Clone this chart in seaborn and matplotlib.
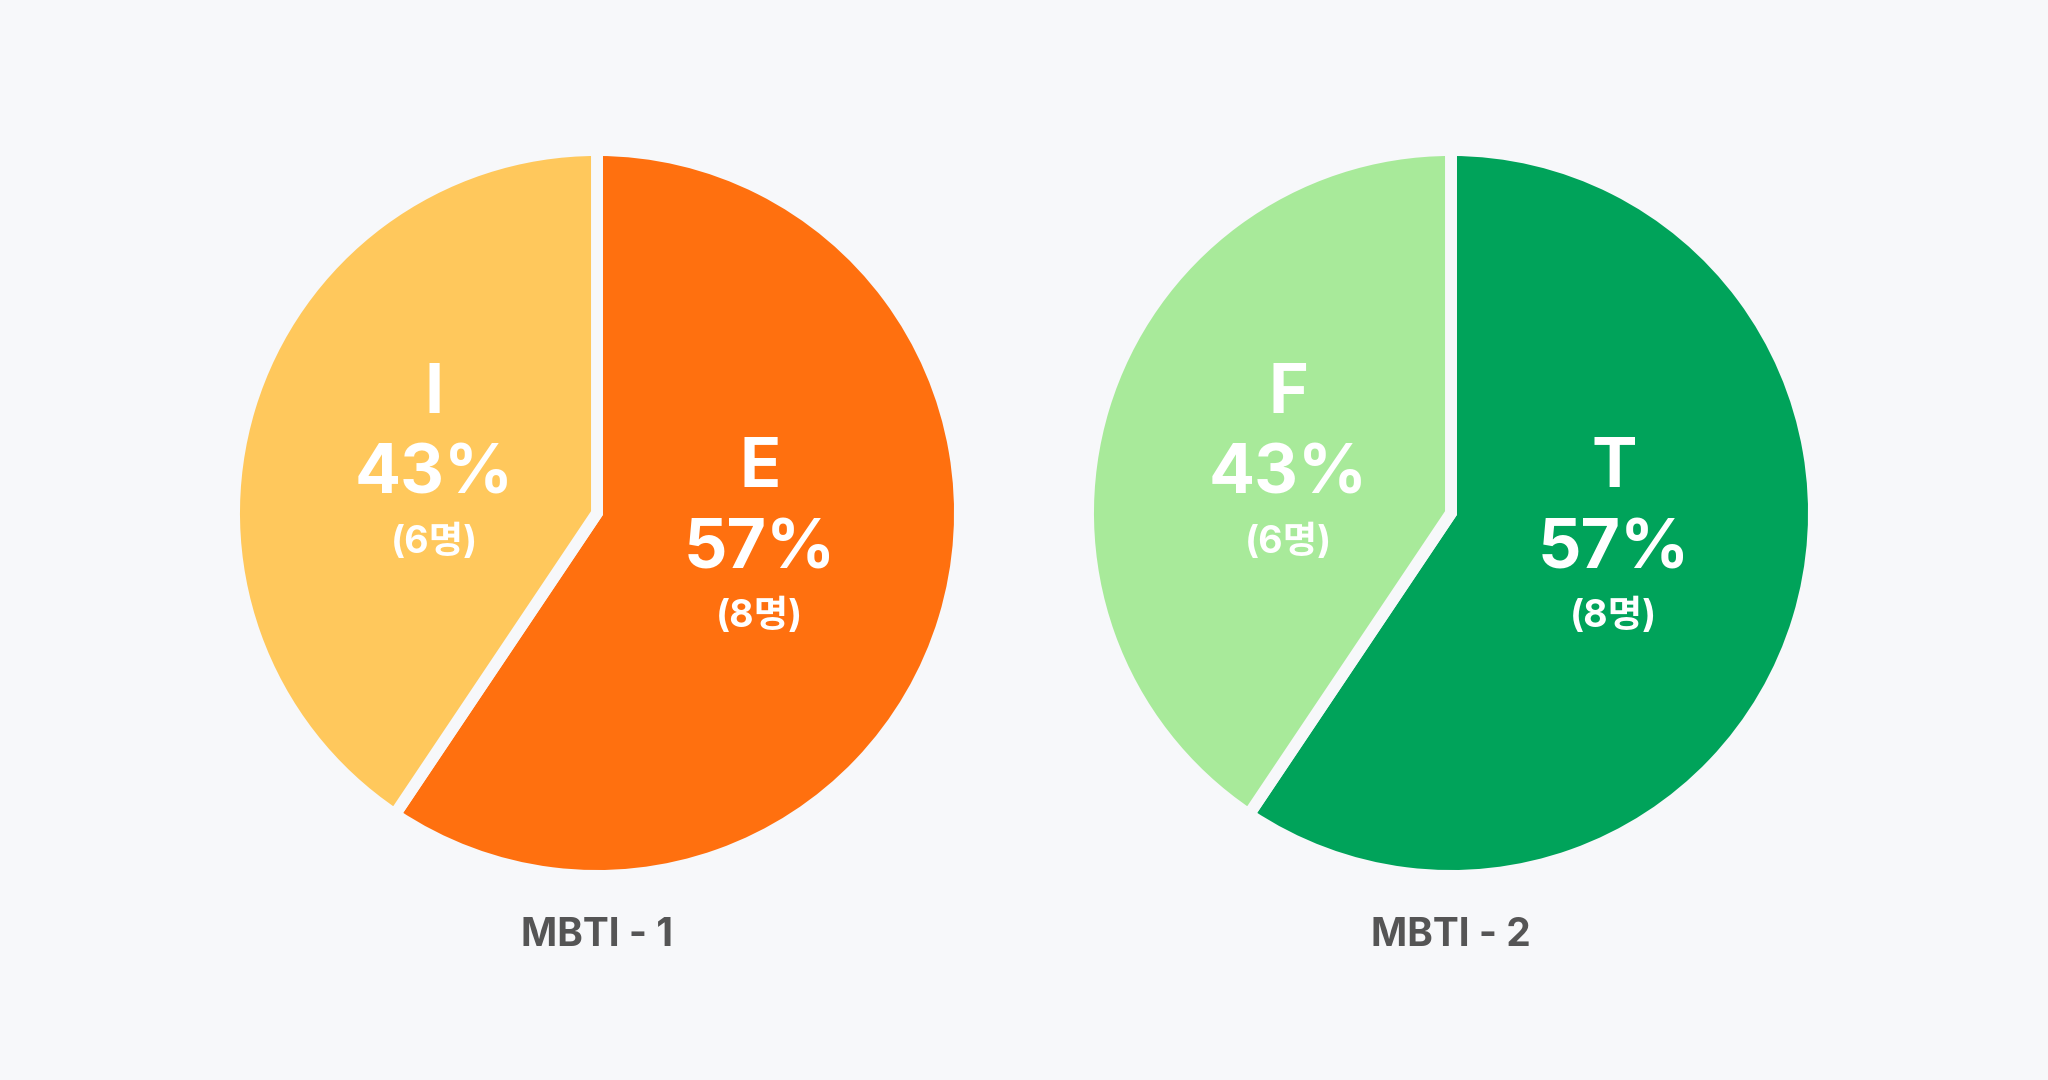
import matplotlib
matplotlib.use("Agg")
import matplotlib.pyplot as plt
import numpy as np
import seaborn as sns

# MBTI split, two charts
titles = ["MBTI - 1", "MBTI - 2"]
types_1 = ["E", "I"]
counts_1 = [8, 6]
colors_1 = ["#FF700F", "#FFC85C"]
types_2 = ["T", "F"]
counts_2 = [8, 6]
colors_2 = ["#00A35A", "#A8EA9A"]
# slice sizes as drawn in the picture (a bit wider than 8/14)
shares_1 = [59.4, 40.6]
shares_2 = [59.4, 40.6]

bg = "#F7F8FA"

sns.set_theme(style="white")
plt.rcParams["font.family"] = ["Inter", "Noto Sans CJK KR", "DejaVu Sans"]

W, H = 2048, 1080
fig = plt.figure(figsize=(W / 100, H / 100), dpi=100, facecolor=bg)

box = 800  # axes size in px
R = 363    # pie radius in px
lim = box / (2 * R)
centers = [(597, 513), (1451, 513)]

for (cx, cy), title, names, counts, shares, cols in zip(
    centers, titles, [types_1, types_2], [counts_1, counts_2],
    [shares_1, shares_2], [colors_1, colors_2]
):
    ax = fig.add_axes([(cx - box / 2) / W, (H - cy - box / 2) / H, box / W, box / H])
    ax.set_facecolor(bg)
    ax.pie(
        shares,
        colors=cols,
        startangle=90,
        counterclock=False,
        radius=1,
        wedgeprops=dict(edgecolor=bg, linewidth=8.6),
    )
    total = sum(counts)
    cum = 0
    for name, n in zip(names, counts):
        mid = 90 - 360 * (cum + n / 2) / total
        cum += n
        ang = np.deg2rad(mid)
        x, y = 0.46 * np.cos(ang), 0.46 * np.sin(ang)
        ax.text(x, y + 0.223, name, ha="center", va="center", color="white",
                fontsize=49, fontweight="bold")
        ax.text(x, y, f"{round(100 * n / total)}%", ha="center", va="center",
                color="white", fontsize=49, fontweight="bold")
        ax.text(x, y - 0.184, f"({n}명)", ha="center", va="center",
                color="white", fontsize=27, fontweight="bold")
    ax.text(0, -1.165, title, ha="center", va="center", color="#555555",
            fontsize=28, fontweight="bold", clip_on=False)
    ax.set_xlim(-lim, lim)
    ax.set_ylim(-lim, lim)
    ax.set_aspect("equal")
    ax.axis("off")

fig.savefig("out.png", dpi=100, facecolor=bg)
